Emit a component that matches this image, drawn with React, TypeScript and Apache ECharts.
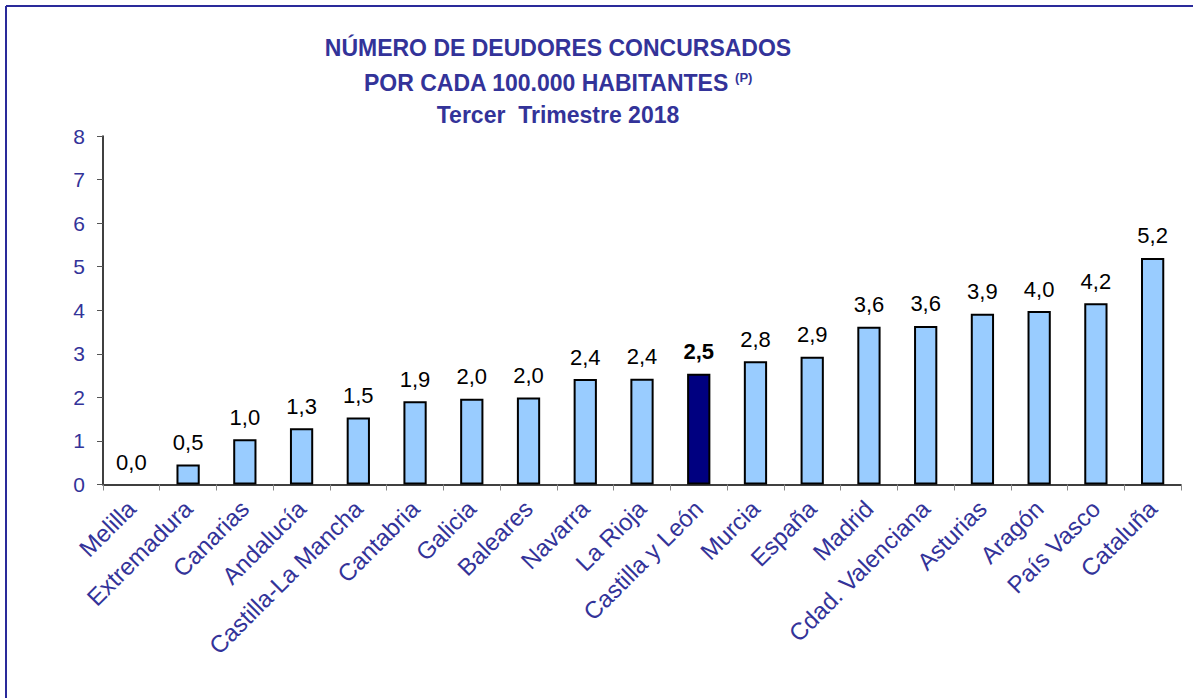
import React, { useEffect, useRef } from "react";
import * as echarts from "echarts";

const categories = [
  "Melilla", "Extremadura", "Canarias", "Andalucía", "Castilla-La Mancha",
  "Cantabria", "Galicia", "Baleares", "Navarra", "La Rioja",
  "Castilla y León", "Murcia", "España", "Madrid", "Cdad. Valenciana",
  "Asturias", "Aragón", "País Vasco", "Cataluña",
];
const values = [
  0.0, 0.46, 1.04, 1.29, 1.54,
  1.91, 1.97, 2.0, 2.42, 2.43,
  2.54, 2.83, 2.93, 3.62, 3.64,
  3.92, 3.98, 4.16, 5.2,
];
const highlighted = "Castilla y León";
const yTicks = { min: 0, max: 8, interval: 1 };
const titleLines = [
  "NÚMERO DE DEUDORES CONCURSADOS",
  "POR CADA 100.000 HABITANTES {sup|(P)}",
  "Tercer  Trimestre 2018",
];

const FONT = "Arial, 'Liberation Sans', sans-serif";
const BLUE_TEXT = "#333399";
const titleTops = [35, 70, 102];

export default function App() {
  const ref = useRef<HTMLDivElement>(null);
  useEffect(() => {
    if (!ref.current) return;
    const chart = echarts.init(ref.current, null, { renderer: "svg" });
    const data = values.map((v, i) => {
      const hi = categories[i] === highlighted;
      return {
        value: v,
        itemStyle: hi
          ? { color: "#000080" }
          : v === 0
          ? { borderWidth: 0 }
          : undefined,
        label: hi ? { fontWeight: "bold" } : undefined,
      };
    });
    chart.setOption({
      animation: false,
      backgroundColor: "#ffffff",
      title: titleLines.map((t, i) => ({
        text: t,
        left: 558,
        top: titleTops[i],
        textAlign: "center",
        padding: 0,
        textStyle: {
          fontFamily: FONT,
          fontSize: 23,
          lineHeight: 26,
          fontWeight: "bold",
          color: BLUE_TEXT,
          rich: {
            sup: {
              fontFamily: FONT,
              fontSize: 13,
              fontWeight: "bold",
              color: BLUE_TEXT,
              lineHeight: 26,
              padding: [0, 0, 12, 0],
            },
          },
        },
      })),
      graphic: [
        { type: "line", shape: { x1: 6, y1: 6, x2: 1193, y2: 6 }, style: { stroke: "#2a2a9a", lineWidth: 2 } },
        { type: "line", shape: { x1: 6, y1: 6, x2: 6, y2: 698 }, style: { stroke: "#2a2a9a", lineWidth: 2 } },
      ],
      grid: { left: 103, right: 12, top: 136, bottom: 213.5, containLabel: false },
      xAxis: {
        type: "category",
        data: categories,
        axisLine: { show: true, lineStyle: { color: "#000", width: 1.5 } },
        axisTick: { show: true, length: 6, lineStyle: { color: "#888" } },
        axisLabel: {
          interval: 0,
          rotate: 45,
          margin: 20,
          fontFamily: FONT,
          fontSize: 24,
          color: BLUE_TEXT,
        },
      },
      yAxis: {
        type: "value",
        min: yTicks.min,
        max: yTicks.max,
        interval: yTicks.interval,
        splitLine: { show: false },
        axisLine: { show: true, lineStyle: { color: "#000", width: 1.5 } },
        axisTick: { show: true, length: 6, lineStyle: { color: "#555" } },
        axisLabel: {
          margin: 18,
          fontFamily: FONT,
          fontSize: 21,
          color: BLUE_TEXT,
        },
      },
      series: [
        {
          type: "bar",
          data,
          barWidth: "41%",
          itemStyle: { color: "#99CCFF", borderColor: "#000", borderWidth: 2 },
          label: {
            show: true,
            position: "top",
            distance: 11,
            fontFamily: FONT,
            fontSize: 22,
            color: "#000",
            formatter: (p: any) => Number(p.value).toFixed(1).replace(".", ","),
          },
        },
      ],
    });
    return () => chart.dispose();
  }, []);
  return (
    <div
      ref={ref}
      style={{ position: "fixed", left: 0, top: 0, width: 1193, height: 698, background: "#fff" }}
    />
  );
}
